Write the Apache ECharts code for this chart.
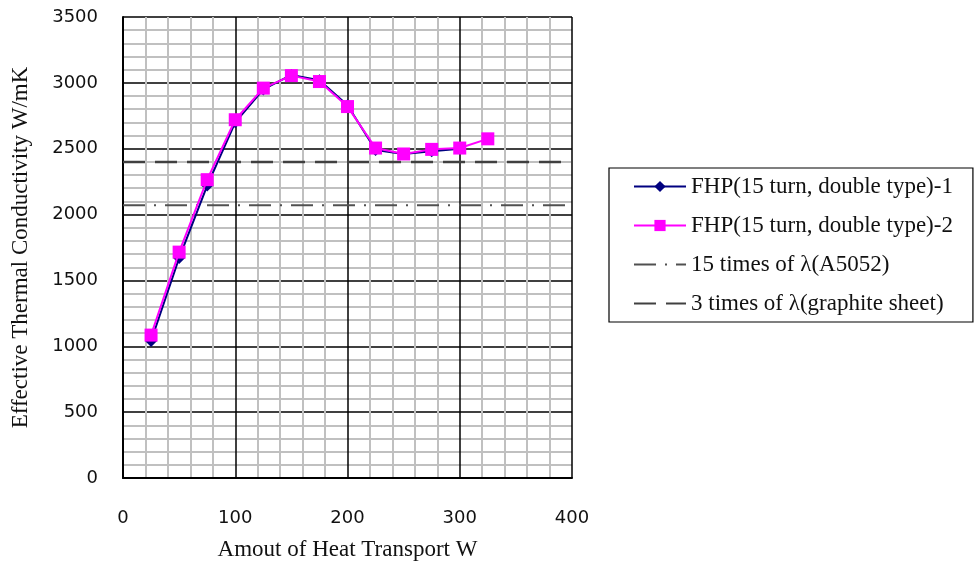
<!DOCTYPE html>
<html><head><meta charset="utf-8">
<script src="https://cdn.jsdelivr.net/npm/echarts@6/dist/echarts.min.js"></script>
<style>html,body{margin:0;padding:0;background:#fff}#c{width:976px;height:561px}</style>
</head><body><div id="c"></div>
<script>
const xValues = [25, 50, 75, 100, 125, 150, 175, 200, 225, 250, 275, 300, 325];
const fhp1 = [1040, 1670, 2220, 2700, 2950, 3060, 3020, 2830, 2490, 2460, 2480, 2500];
const fhp2 = [1085, 1715, 2265, 2720, 2960, 3055, 3010, 2820, 2505, 2460, 2495, 2505, 2575];
const a5052Line = [[0, 2070], [400, 2070]];
const graphiteLine = [[0, 2400], [400, 2400]];
const names = ['FHP(15 turn, double type)-1', 'FHP(15 turn, double type)-2', '15 times of \u03bb(A5052)', '3 times of \u03bb(graphite sheet)'];

const chart = echarts.init(document.getElementById('c'));
const pair = (xs, ys) => ys.map((v, i) => [xs[i], v]);
chart.setOption({
  animation: false,
  grid: {left: 123, top: 17, right: 404, bottom: 83, containLabel: false, outerBoundsMode: 'none'},
  xAxis: {
    type: 'value', min: 0, max: 400, interval: 100,
    name: 'Amout of Heat Transport W', nameLocation: 'middle', nameGap: 60,
    nameTextStyle: {fontFamily: 'Liberation Serif', fontSize: 23, color: '#111'},
    axisLine: {lineStyle: {color: '#000', width: 2}},
    axisTick: {show: false},
    axisLabel: {margin: 31, fontFamily: 'DejaVu Sans', fontSize: 18, color: '#111', formatter: v => String(v)},
    splitLine: {lineStyle: {color: '#000', width: 1.5}},
    minorTick: {show: false, splitNumber: 5},
    minorSplitLine: {show: true, lineStyle: {color: '#c0c0c0', width: 2}}
  },
  yAxis: {
    type: 'value', min: 0, max: 3500, interval: 500,
    name: 'Effective Thermal Conductivity W/mK', nameLocation: 'middle', nameGap: 91,
    nameTextStyle: {fontFamily: 'Liberation Serif', fontSize: 23, color: '#111'},
    axisLine: {lineStyle: {color: '#000', width: 2}},
    axisTick: {show: false},
    axisLabel: {margin: 25, fontFamily: 'DejaVu Sans', fontSize: 18, color: '#111', formatter: v => String(v)},
    splitLine: {lineStyle: {color: '#000', width: 1.5}},
    minorTick: {show: false, splitNumber: 5},
    minorSplitLine: {show: true, lineStyle: {color: '#c0c0c0', width: 2}}
  },
  legend: {
    orient: 'vertical', left: 609, top: 168,
    padding: [7, 20, 7, 24], itemGap: 16, itemWidth: 52, itemHeight: 14,
    borderColor: '#000', borderWidth: 1.2,
    textStyle: {fontFamily: 'Liberation Serif', fontSize: 23, color: '#111'},
    data: names
  },
  series: [
    {name: names[3], type: 'line', data: graphiteLine, symbol: 'none', z: 2,
     lineStyle: {color: '#404040', width: 2.5, type: [22, 10]}, itemStyle: {color: 'rgba(0,0,0,0)', borderWidth: 0}},
    {name: names[2], type: 'line', data: a5052Line, symbol: 'none', z: 2,
     lineStyle: {color: '#505050', width: 2, type: [22, 9, 2, 9]}, itemStyle: {color: 'rgba(0,0,0,0)', borderWidth: 0}},
    {name: names[0], type: 'line', data: pair(xValues, fhp1), symbol: 'diamond', symbolSize: 12, z: 3,
     lineStyle: {color: '#000080', width: 2}, itemStyle: {color: '#000080'}},
    {name: names[1], type: 'line', data: pair(xValues, fhp2), symbol: 'rect', symbolSize: 13, z: 4,
     lineStyle: {color: '#ff00ff', width: 2}, itemStyle: {color: '#ff00ff'}}
  ]
});
</script></body></html>
